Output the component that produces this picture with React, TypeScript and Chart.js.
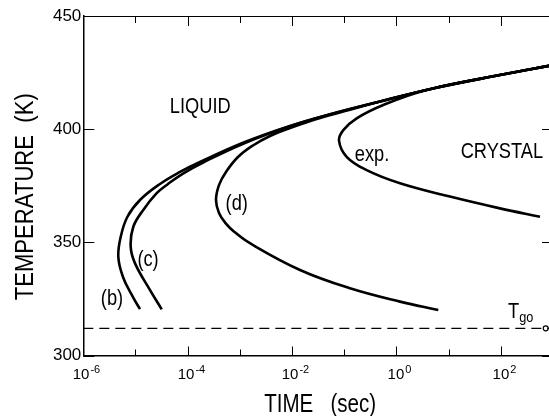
import React, { useEffect, useRef } from "react";
import { Chart, registerables } from "chart.js";

Chart.register(...registerables);

// ---- data (time in sec, temperature in K) ----
const curveBTime = [1.22e-5, 8.95e-6, 5.78e-6, 4.69e-6, 5.21e-6, 6.97e-6, 1.22e-5, 2.95e-5, 7.13e-5, 1.72e-4, 1.25e-3, 9.12e-3, 6.08e-2, 0.484, 5.01, 95.5, 1000];
const curveBTemp = [320.5, 325.8, 334.6, 343.5, 352.4, 361.2, 368.7, 375.8, 381.1, 385.5, 394.3, 401.4, 406.9, 412.2, 418.0, 423.9, 428.3];

const curveCTime = [3.18e-5, 1.9e-5, 9.8e-6, 8.09e-6, 9.08e-6, 1.41e-5, 2.55e-5, 4.2e-5, 8.13e-5, 2.06e-4, 1.25e-3, 9.12e-3, 6.08e-2, 0.484, 5.01, 95.5, 1000];
const curveCTemp = [320.4, 328.9, 340.7, 348.1, 356.9, 364.3, 371.7, 375.8, 380.4, 385.5, 393.9, 401.3, 406.9, 412.2, 418.0, 423.9, 428.3];

const curveDTime = [6.34, 1.17, 0.129, 1.42e-2, 1.56e-3, 7.78e-4, 5.37e-4, 3.98e-4, 3.49e-4, 3.98e-4, 5.42e-4, 9.2e-4, 1.78e-3, 3.78e-3, 9.12e-3, 2.75e-2, 0.103, 0.484, 5.01, 95.5, 1000];
const curveDTemp = [320.1, 323.8, 329.7, 337.8, 349.6, 354.7, 358.4, 363.0, 368.7, 375.3, 381.1, 387.7, 392.8, 397.0, 400.5, 404.3, 408.0, 412.2, 418.0, 423.9, 428.3];

const curveExpTime = [564, 96, 10.6, 1.17, 0.269, 0.111, 0.0794, 0.096, 0.173, 0.56, 3.8, 95.5, 1000];
const curveExpTemp = [361.3, 365.0, 370.2, 376.1, 381.9, 387.8, 394.9, 399.6, 404.8, 410.7, 417.3, 423.9, 428.3];

const tgoTime = [1e-6, 1000];
const tgoTemp = [312, 312];
const tgoMarkerTime = [725];
const tgoMarkerTemp = [312];

const xTickExponents = [-6, -5, -4, -3, -2, -1, 0, 1, 2, 3];
const xTickLabelExponents = ["-6", "", "-4", "", "-2", "", "0", "", "2", ""];
const yTickValues = [300, 350, 400, 450];

const xTitle = "TIME   (sec)";
const yTitle = "TEMPERATURE  (K)";

const regionLabels = ["LIQUID", "CRYSTAL", "exp.", "(d)", "(c)", "(b)"];
const regionLabelTimes = [1.74e-4, 105, 0.34, 8.7e-4, 1.74e-5, 3.55e-6];
const regionLabelTemps = [409.7, 389.8, 388.4, 366.9, 342.2, 325.0];

const tgoLabelTime = 138;
const tgoLabelTemp = 316.6;

const SANS = "'Liberation Sans', Arial, Helvetica, sans-serif";

function pts(xs: number[], ys: number[]) {
  return xs.map((x, i) => ({ x, y: ys[i] }));
}

function narrowText(ctx: any, text: string, x: number, y: number, sx: number, align: string) {
  ctx.save();
  ctx.translate(x, y);
  ctx.scale(sx, 1);
  ctx.textAlign = align;
  ctx.fillText(text, 0, 0);
  ctx.restore();
}

const decorPlugin = {
  id: "decor",
  afterDraw(chart: any) {
    const { ctx, chartArea } = chart;
    const xs = chart.scales.x;
    const ys = chart.scales.y;
    const { left, right, top, bottom } = chartArea;
    ctx.save();
    ctx.strokeStyle = "#000";
    ctx.fillStyle = "#000";
    // top & right frame
    ctx.lineWidth = 1;
    ctx.beginPath();
    ctx.moveTo(left, top + 0.5);
    ctx.lineTo(right, top + 0.5);
    ctx.moveTo(right - 0.5, top);
    ctx.lineTo(right - 0.5, bottom);
    ctx.stroke();
    // x ticks (inward, top and bottom)
    xs.ticks.forEach((t: any, i: number) => {
      const px = Math.round(xs.getPixelForValue(t.value)) + 0.5;
      const major = xTickLabelExponents[i] !== "";
      const lb = major ? 9 : 6;
      const lt = major ? 10 : 7;
      ctx.beginPath();
      ctx.moveTo(px, bottom);
      ctx.lineTo(px, bottom - lb);
      ctx.moveTo(px, top);
      ctx.lineTo(px, top + lt);
      ctx.stroke();
      // x tick label: 10 with superscript exponent
      if (major) {
        ctx.textBaseline = "alphabetic";
        ctx.textAlign = "left";
        ctx.font = `15px ${SANS}`;
        const wb = ctx.measureText("10").width;
        ctx.font = `11px ${SANS}`;
        const we = ctx.measureText(xTickLabelExponents[i]).width;
        const x0 = px + 3 - (wb + we + 1) / 2;
        ctx.font = `15px ${SANS}`;
        ctx.fillText("10", x0, bottom + 23);
        ctx.font = `11px ${SANS}`;
        ctx.fillText(xTickLabelExponents[i], x0 + wb + 1, bottom + 17);
      }
    });
    // y ticks (inward, left and right)
    yTickValues.forEach((v) => {
      const py = Math.round(ys.getPixelForValue(v)) + 0.5;
      ctx.beginPath();
      ctx.moveTo(left, py);
      ctx.lineTo(left + 11, py);
      ctx.moveTo(right, py);
      ctx.lineTo(right - 11, py);
      ctx.stroke();
    });
    // axis titles
    ctx.textBaseline = "alphabetic";
    ctx.font = `26px ${SANS}`;
    narrowText(ctx, xTitle, (left + right) / 2 + 2, 412, 0.79, "center");
    ctx.save();
    ctx.translate(33, (top + bottom) / 2 + 11);
    ctx.rotate(-Math.PI / 2);
    narrowText(ctx, yTitle, 0, 0, 0.85, "center");
    ctx.restore();
    // region labels
    ctx.textBaseline = "middle";
    ctx.font = `22px ${SANS}`;
    regionLabels.forEach((txt, i) => {
      narrowText(ctx, txt, xs.getPixelForValue(regionLabelTimes[i]), ys.getPixelForValue(regionLabelTemps[i]), 0.83, "center");
    });
    // T_go label with subscript
    const tx = xs.getPixelForValue(tgoLabelTime);
    const ty = ys.getPixelForValue(tgoLabelTemp);
    ctx.textBaseline = "alphabetic";
    ctx.font = `22px ${SANS}`;
    narrowText(ctx, "T", tx, ty, 0.83, "left");
    const w = ctx.measureText("T").width * 0.83;
    ctx.font = `15px ${SANS}`;
    narrowText(ctx, "go", tx + w, ty + 4, 0.85, "left");
    ctx.restore();
  },
};

export default function App() {
  const ref = useRef<HTMLCanvasElement>(null);
  useEffect(() => {
    if (!ref.current) return;
    const lineDs = (label: string, xs: number[], ys: number[]) => ({
      label,
      data: pts(xs, ys),
      showLine: true,
      borderColor: "#000",
      borderWidth: 2.6,
      pointRadius: 0,
      tension: 0.4,
      fill: false,
    });
    const chart = new Chart(ref.current, {
      type: "scatter",
      data: {
        datasets: [
          lineDs("(b)", curveBTime, curveBTemp),
          lineDs("(c)", curveCTime, curveCTemp),
          lineDs("(d)", curveDTime, curveDTemp),
          lineDs("exp.", curveExpTime, curveExpTemp),
          {
            label: "Tgo",
            data: pts(tgoTime, tgoTemp),
            showLine: true,
            borderColor: "#000",
            borderWidth: 1.1,
            borderDash: [10, 6],
            pointRadius: 0,
            tension: 0,
          },
          {
            label: "Tgo marker",
            data: pts(tgoMarkerTime, tgoMarkerTemp),
            showLine: false,
            pointRadius: 2.5,
            pointStyle: "circle",
            backgroundColor: "#fff",
            borderColor: "#000",
            borderWidth: 1.2,
          },
        ],
      } as any,
      options: {
        animation: false,
        responsive: false,
        devicePixelRatio: 1,
        layout: { padding: { left: 0, top: 16, right: 17, bottom: 0 } },
        plugins: { legend: { display: false }, tooltip: { enabled: false } },
        scales: {
          x: {
            type: "logarithmic",
            min: 1e-6,
            max: 1e3,
            grid: { display: false, drawTicks: false },
            border: { display: true, color: "#000", width: 1.5 },
            afterBuildTicks: (scale: any) => {
              scale.ticks = xTickExponents.map((e) => ({ value: Math.pow(10, e) }));
            },
            afterFit: (scale: any) => {
              scale.height = 60.5;
            },
            ticks: { display: false, autoSkip: false, maxRotation: 0 },
            title: { display: false },
          },
          y: {
            type: "linear",
            min: 300,
            max: 450,
            grid: { display: false, drawTicks: false },
            border: { display: true, color: "#000", width: 1.5 },
            afterBuildTicks: (scale: any) => {
              scale.ticks = yTickValues.map((v) => ({ value: v }));
            },
            afterFit: (scale: any) => {
              scale.width = 83.3;
            },
            ticks: {
              padding: 2,
              color: "#000",
              font: { family: SANS, size: 17 },
              callback: (v: any) => String(v),
            },
            title: { display: false },
          },
        },
      } as any,
      plugins: [decorPlugin],
    });
    return () => chart.destroy();
  }, []);
  return (
    <div style={{ position: "fixed", left: 0, top: 0, width: 549, height: 416, overflow: "hidden", background: "#fff" }}>
      <canvas ref={ref} width={570} height={416} style={{ width: 570, height: 416, display: "block" }} />
    </div>
  );
}
